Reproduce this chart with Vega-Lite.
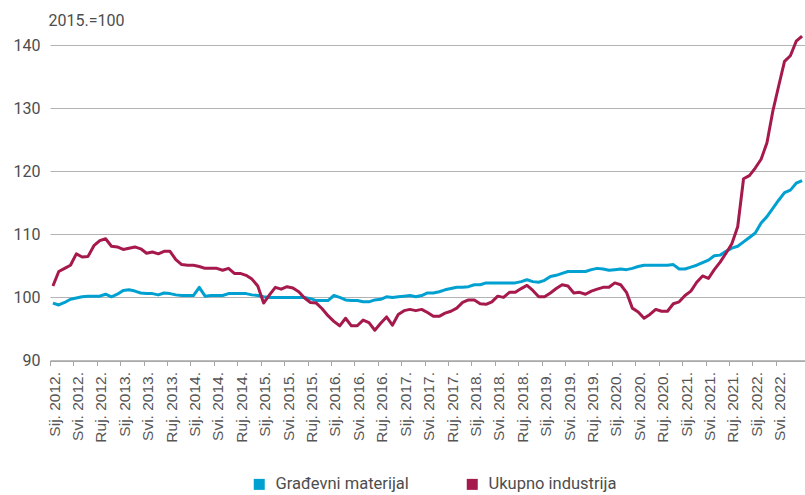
{
"$schema": "https://vega.github.io/schema/vega-lite/v6.json",
"autosize": "none",
"width": 755,
"height": 315.5,
"padding": {"left": 50, "top": 45, "right": 0, "bottom": 134},
"background": "white",
"config": {"view": {"stroke": null}},
"data": {"values": [
{"m":"2012-01","Građevni materijal":99.1,"Ukupno industrija":101.8},
{"m":"2012-02","Građevni materijal":98.8,"Ukupno industrija":104.1},
{"m":"2012-03","Građevni materijal":99.2,"Ukupno industrija":104.6},
{"m":"2012-04","Građevni materijal":99.7,"Ukupno industrija":105.1},
{"m":"2012-05","Građevni materijal":99.9,"Ukupno industrija":106.9},
{"m":"2012-06","Građevni materijal":100.1,"Ukupno industrija":106.4},
{"m":"2012-07","Građevni materijal":100.2,"Ukupno industrija":106.5},
{"m":"2012-08","Građevni materijal":100.2,"Ukupno industrija":108.2},
{"m":"2012-09","Građevni materijal":100.2,"Ukupno industrija":109.0},
{"m":"2012-10","Građevni materijal":100.5,"Ukupno industrija":109.3},
{"m":"2012-11","Građevni materijal":100.1,"Ukupno industrija":108.1},
{"m":"2012-12","Građevni materijal":100.5,"Ukupno industrija":108.0},
{"m":"2013-01","Građevni materijal":101.1,"Ukupno industrija":107.6},
{"m":"2013-02","Građevni materijal":101.2,"Ukupno industrija":107.8},
{"m":"2013-03","Građevni materijal":101.0,"Ukupno industrija":108.0},
{"m":"2013-04","Građevni materijal":100.7,"Ukupno industrija":107.7},
{"m":"2013-05","Građevni materijal":100.6,"Ukupno industrija":107.0},
{"m":"2013-06","Građevni materijal":100.6,"Ukupno industrija":107.2},
{"m":"2013-07","Građevni materijal":100.4,"Ukupno industrija":106.9},
{"m":"2013-08","Građevni materijal":100.7,"Ukupno industrija":107.3},
{"m":"2013-09","Građevni materijal":100.6,"Ukupno industrija":107.3},
{"m":"2013-10","Građevni materijal":100.4,"Ukupno industrija":106.0},
{"m":"2013-11","Građevni materijal":100.3,"Ukupno industrija":105.2},
{"m":"2013-12","Građevni materijal":100.3,"Ukupno industrija":105.1},
{"m":"2014-01","Građevni materijal":100.3,"Ukupno industrija":105.1},
{"m":"2014-02","Građevni materijal":101.6,"Ukupno industrija":104.9},
{"m":"2014-03","Građevni materijal":100.2,"Ukupno industrija":104.6},
{"m":"2014-04","Građevni materijal":100.3,"Ukupno industrija":104.6},
{"m":"2014-05","Građevni materijal":100.3,"Ukupno industrija":104.6},
{"m":"2014-06","Građevni materijal":100.3,"Ukupno industrija":104.3},
{"m":"2014-07","Građevni materijal":100.6,"Ukupno industrija":104.6},
{"m":"2014-08","Građevni materijal":100.6,"Ukupno industrija":103.8},
{"m":"2014-09","Građevni materijal":100.6,"Ukupno industrija":103.8},
{"m":"2014-10","Građevni materijal":100.6,"Ukupno industrija":103.5},
{"m":"2014-11","Građevni materijal":100.4,"Ukupno industrija":102.9},
{"m":"2014-12","Građevni materijal":100.3,"Ukupno industrija":101.8},
{"m":"2015-01","Građevni materijal":100.1,"Ukupno industrija":99.1},
{"m":"2015-02","Građevni materijal":100.0,"Ukupno industrija":100.4},
{"m":"2015-03","Građevni materijal":100.0,"Ukupno industrija":101.6},
{"m":"2015-04","Građevni materijal":100.0,"Ukupno industrija":101.3},
{"m":"2015-05","Građevni materijal":100.0,"Ukupno industrija":101.7},
{"m":"2015-06","Građevni materijal":100.0,"Ukupno industrija":101.5},
{"m":"2015-07","Građevni materijal":100.0,"Ukupno industrija":100.9},
{"m":"2015-08","Građevni materijal":100.0,"Ukupno industrija":99.9},
{"m":"2015-09","Građevni materijal":99.8,"Ukupno industrija":99.2},
{"m":"2015-10","Građevni materijal":99.5,"Ukupno industrija":99.1},
{"m":"2015-11","Građevni materijal":99.5,"Ukupno industrija":98.2},
{"m":"2015-12","Građevni materijal":99.5,"Ukupno industrija":97.1},
{"m":"2016-01","Građevni materijal":100.3,"Ukupno industrija":96.2},
{"m":"2016-02","Građevni materijal":100.0,"Ukupno industrija":95.5},
{"m":"2016-03","Građevni materijal":99.6,"Ukupno industrija":96.7},
{"m":"2016-04","Građevni materijal":99.5,"Ukupno industrija":95.5},
{"m":"2016-05","Građevni materijal":99.5,"Ukupno industrija":95.5},
{"m":"2016-06","Građevni materijal":99.3,"Ukupno industrija":96.4},
{"m":"2016-07","Građevni materijal":99.3,"Ukupno industrija":96.0},
{"m":"2016-08","Građevni materijal":99.6,"Ukupno industrija":94.8},
{"m":"2016-09","Građevni materijal":99.7,"Ukupno industrija":95.9},
{"m":"2016-10","Građevni materijal":100.1,"Ukupno industrija":96.9},
{"m":"2016-11","Građevni materijal":100.0,"Ukupno industrija":95.6},
{"m":"2016-12","Građevni materijal":100.1,"Ukupno industrija":97.3},
{"m":"2017-01","Građevni materijal":100.2,"Ukupno industrija":97.9},
{"m":"2017-02","Građevni materijal":100.3,"Ukupno industrija":98.1},
{"m":"2017-03","Građevni materijal":100.1,"Ukupno industrija":97.9},
{"m":"2017-04","Građevni materijal":100.3,"Ukupno industrija":98.1},
{"m":"2017-05","Građevni materijal":100.7,"Ukupno industrija":97.6},
{"m":"2017-06","Građevni materijal":100.7,"Ukupno industrija":97.0},
{"m":"2017-07","Građevni materijal":100.9,"Ukupno industrija":97.0},
{"m":"2017-08","Građevni materijal":101.2,"Ukupno industrija":97.5},
{"m":"2017-09","Građevni materijal":101.4,"Ukupno industrija":97.8},
{"m":"2017-10","Građevni materijal":101.6,"Ukupno industrija":98.3},
{"m":"2017-11","Građevni materijal":101.6,"Ukupno industrija":99.2},
{"m":"2017-12","Građevni materijal":101.7,"Ukupno industrija":99.6},
{"m":"2018-01","Građevni materijal":102.0,"Ukupno industrija":99.6},
{"m":"2018-02","Građevni materijal":102.0,"Ukupno industrija":99.0},
{"m":"2018-03","Građevni materijal":102.3,"Ukupno industrija":98.9},
{"m":"2018-04","Građevni materijal":102.3,"Ukupno industrija":99.3},
{"m":"2018-05","Građevni materijal":102.3,"Ukupno industrija":100.2},
{"m":"2018-06","Građevni materijal":102.3,"Ukupno industrija":100.0},
{"m":"2018-07","Građevni materijal":102.3,"Ukupno industrija":100.8},
{"m":"2018-08","Građevni materijal":102.3,"Ukupno industrija":100.8},
{"m":"2018-09","Građevni materijal":102.5,"Ukupno industrija":101.4},
{"m":"2018-10","Građevni materijal":102.8,"Ukupno industrija":101.9},
{"m":"2018-11","Građevni materijal":102.5,"Ukupno industrija":101.1},
{"m":"2018-12","Građevni materijal":102.4,"Ukupno industrija":100.1},
{"m":"2019-01","Građevni materijal":102.7,"Ukupno industrija":100.1},
{"m":"2019-02","Građevni materijal":103.3,"Ukupno industrija":100.7},
{"m":"2019-03","Građevni materijal":103.5,"Ukupno industrija":101.4},
{"m":"2019-04","Građevni materijal":103.8,"Ukupno industrija":102.0},
{"m":"2019-05","Građevni materijal":104.1,"Ukupno industrija":101.8},
{"m":"2019-06","Građevni materijal":104.1,"Ukupno industrija":100.7},
{"m":"2019-07","Građevni materijal":104.1,"Ukupno industrija":100.8},
{"m":"2019-08","Građevni materijal":104.1,"Ukupno industrija":100.5},
{"m":"2019-09","Građevni materijal":104.4,"Ukupno industrija":101.0},
{"m":"2019-10","Građevni materijal":104.6,"Ukupno industrija":101.3},
{"m":"2019-11","Građevni materijal":104.5,"Ukupno industrija":101.6},
{"m":"2019-12","Građevni materijal":104.3,"Ukupno industrija":101.6},
{"m":"2020-01","Građevni materijal":104.4,"Ukupno industrija":102.3},
{"m":"2020-02","Građevni materijal":104.5,"Ukupno industrija":102.0},
{"m":"2020-03","Građevni materijal":104.4,"Ukupno industrija":100.8},
{"m":"2020-04","Građevni materijal":104.6,"Ukupno industrija":98.3},
{"m":"2020-05","Građevni materijal":104.9,"Ukupno industrija":97.7},
{"m":"2020-06","Građevni materijal":105.1,"Ukupno industrija":96.7},
{"m":"2020-07","Građevni materijal":105.1,"Ukupno industrija":97.3},
{"m":"2020-08","Građevni materijal":105.1,"Ukupno industrija":98.1},
{"m":"2020-09","Građevni materijal":105.1,"Ukupno industrija":97.8},
{"m":"2020-10","Građevni materijal":105.1,"Ukupno industrija":97.8},
{"m":"2020-11","Građevni materijal":105.2,"Ukupno industrija":99.0},
{"m":"2020-12","Građevni materijal":104.5,"Ukupno industrija":99.3},
{"m":"2021-01","Građevni materijal":104.5,"Ukupno industrija":100.3},
{"m":"2021-02","Građevni materijal":104.8,"Ukupno industrija":101.0},
{"m":"2021-03","Građevni materijal":105.1,"Ukupno industrija":102.4},
{"m":"2021-04","Građevni materijal":105.5,"Ukupno industrija":103.4},
{"m":"2021-05","Građevni materijal":105.9,"Ukupno industrija":103.0},
{"m":"2021-06","Građevni materijal":106.6,"Ukupno industrija":104.4},
{"m":"2021-07","Građevni materijal":106.7,"Ukupno industrija":105.6},
{"m":"2021-08","Građevni materijal":107.3,"Ukupno industrija":107.0},
{"m":"2021-09","Građevni materijal":107.8,"Ukupno industrija":108.5},
{"m":"2021-10","Građevni materijal":108.1,"Ukupno industrija":111.2},
{"m":"2021-11","Građevni materijal":108.8,"Ukupno industrija":118.8},
{"m":"2021-12","Građevni materijal":109.5,"Ukupno industrija":119.3},
{"m":"2022-01","Građevni materijal":110.2,"Ukupno industrija":120.5},
{"m":"2022-02","Građevni materijal":111.8,"Ukupno industrija":121.9},
{"m":"2022-03","Građevni materijal":112.8,"Ukupno industrija":124.5},
{"m":"2022-04","Građevni materijal":114.1,"Ukupno industrija":129.5},
{"m":"2022-05","Građevni materijal":115.4,"Ukupno industrija":133.5},
{"m":"2022-06","Građevni materijal":116.6,"Ukupno industrija":137.4},
{"m":"2022-07","Građevni materijal":117.0,"Ukupno industrija":138.3},
{"m":"2022-08","Građevni materijal":118.1,"Ukupno industrija":140.6},
{"m":"2022-09","Građevni materijal":118.5,"Ukupno industrija":141.4}
]},
"transform": [{"fold": ["Građevni materijal", "Ukupno industrija"], "as": ["serija", "vrijednost"]}],
"mark": {"type": "line", "strokeWidth": 3, "strokeJoin": "round"},
"encoding": {
  "x": {
    "field": "m", "type": "ordinal", "sort": "ascending",
    "scale": {"type": "point", "padding": 0.5},
    "axis": {
      "title": null,
      "values": ["2012-01","2012-05","2012-09","2013-01","2013-05","2013-09","2014-01","2014-05","2014-09","2015-01","2015-05","2015-09","2016-01","2016-05","2016-09","2017-01","2017-05","2017-09","2018-01","2018-05","2018-09","2019-01","2019-05","2019-09","2020-01","2020-05","2020-09","2021-01","2021-05","2021-09","2022-01","2022-05"],
      "labelExpr": "(substring(datum.value,5,7)=='01'?'Sij.':(substring(datum.value,5,7)=='05'?'Svi.':'Ruj.'))+' '+substring(datum.value,0,4)+'.'",
      "labelAngle": -90,
      "labelFont": "Liberation Sans",
      "labelFontSize": 15.5,
      "labelColor": "#555555",
      "labelPadding": 6,
      "labelOffset": 4,
      "tickOffset": -2.9,
      "tickSize": 5,
      "tickColor": "#a6a6a6",
      "domainColor": "#a6a6a6",
      "domainWidth": 1.5,
      "grid": false,
      "labelOverlap": false
    }
  },
  "y": {
    "field": "vrijednost", "type": "quantitative",
    "scale": {"domain": [90, 140], "nice": false, "zero": false},
    "axis": {
      "values": [90, 100, 110, 120, 130, 140],
      "title": "2015.=100",
      "titleAngle": 0,
      "titleAlign": "left",
      "titleBaseline": "middle",
      "titleX": -2,
      "titleY": -25,
      "titleFont": "Roboto",
      "titleFontSize": 16,
      "titleFontWeight": "normal",
      "titleColor": "#4d4d4d",
      "labelFont": "Roboto",
      "labelFontSize": 16,
      "labelColor": "#4d4d4d",
      "labelPadding": 10,
      "ticks": false,
      "domain": false,
      "grid": true,
      "gridColor": "#b3b3b3",
      "gridWidth": 1
    }
  },
  "color": {
    "field": "serija", "type": "nominal",
    "scale": {"domain": ["Građevni materijal", "Ukupno industrija"], "range": ["#00a0d1", "#a6194c"]},
    "legend": {
      "title": null,
      "orient": "none",
      "direction": "horizontal",
      "legendX": 201,
      "legendY": 431,
      "symbolType": "square",
      "symbolSize": 121,
      "symbolStrokeWidth": 0,
      "labelFont": "Roboto",
      "labelFontSize": 16.5,
      "labelColor": "#4d4d4d",
      "labelOffset": 8,
      "columnPadding": 55,
      "encode": {"symbols": {"update": {"fill": {"scale": "color", "field": "value"}, "fillOpacity": {"value": 1}, "strokeWidth": {"value": 0}}}}
    }
  }
}
}
